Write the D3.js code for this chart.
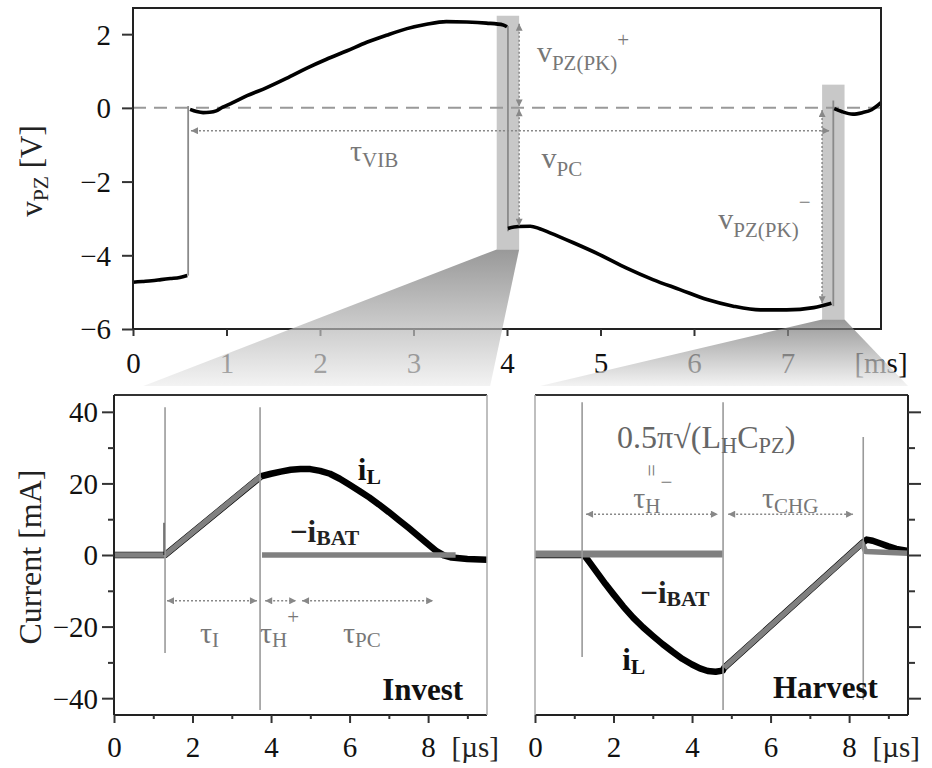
<!DOCTYPE html>
<html>
<head>
<meta charset="utf-8">
<script src="https://cdn.jsdelivr.net/npm/d3@7/dist/d3.min.js"></script>
<style>
  body { margin: 0; background: #fff; }
  text { font-family: "Liberation Serif", "Times New Roman", serif; }
</style>
</head>
<body>
<div id="chart"></div>
<script>
// Piezo voltage trace, [time ms, volts], split where the switch events jump
const vpzPart1 = [[0,-4.73],[0.1,-4.71],[0.2,-4.69],[0.3,-4.66],[0.4,-4.63],[0.5,-4.6],[0.58,-4.55]];
const vpzPart2 = [[0.61,-0.04],[0.68,-0.1],[0.75,-0.13],[0.82,-0.12],[0.89,-0.08],[0.96,0.02],[1.04,0.11],
  [1.22,0.33],[1.43,0.55],[1.64,0.8],[1.86,1.08],[2.07,1.32],[2.29,1.55],[2.5,1.78],[2.71,1.97],
  [2.93,2.15],[3.14,2.27],[3.35,2.34],[3.57,2.33],[3.78,2.3],[3.96,2.25],[4.0,2.2]];
const vpzPart3 = [[4.01,-3.27],[4.12,-3.22],[4.25,-3.21],[4.35,-3.28],[4.46,-3.39],[4.71,-3.66],[4.99,-3.98],
  [5.28,-4.35],[5.56,-4.66],[5.85,-4.93],[6.14,-5.2],[6.42,-5.38],[6.71,-5.48],[6.99,-5.48],[7.28,-5.42],[7.47,-5.3]];
const vpzPart4 = [[7.5,-0.02],[7.58,-0.1],[7.7,-0.17],[7.8,-0.13],[7.9,-0.05],[8.0,0.14]];
// jumps: [time, from V, to V]
const vpzJumps = [[0.59,-4.55,0.05],[4.01,2.22,-3.35],[7.49,-5.38,0.2]];
// shaded zoom windows: [t0, t1, vTop, vBottom]
const zoomWindows = [[3.89,4.13,2.5,-3.84],[7.37,7.61,0.63,-5.74]];
const topXTicks = [0,1,2,3,4,5,6,7];
const topYTicks = [-6,-4,-2,0,2];

// Invest phase currents, [time us, mA]
const investIL = [[0,0],[1.3,0],[3.75,22],[4.0,22.7],[4.25,23.3],[4.5,23.8],[4.75,24],[5.0,24],[5.25,23.5],
  [5.5,22.7],[5.75,21.3],[6.0,19.6],[6.25,17.9],[6.5,16.1],[6.75,14.1],[7.0,12],[7.25,9.8],[7.5,7.6],
  [7.75,5.3],[8.0,3],[8.2,1.2],[8.4,-0.1],[8.6,-0.7],[9.0,-1.1],[9.5,-1.3]];
const investBat1 = [[0,0],[1.3,0],[3.73,21.9]];
const investBat2 = [[3.77,0],[8.7,0]];
const investSpikes = [[1.3,-27.4,41.3],[3.72,-43.3,41.3]];
const investTaus = [[1.35,3.64],[3.85,4.64],[4.79,8.13]];

// Harvest phase currents, [time us, mA]
const harvestIL = [[0,0],[1.25,0],[1.4,-2.2],[1.6,-5.2],[1.8,-8.2],[2.0,-11],[2.25,-14.4],[2.5,-17.5],
  [2.75,-20.2],[3.0,-22.6],[3.25,-24.9],[3.5,-27],[3.75,-29],[4.0,-30.6],[4.2,-31.7],[4.4,-32.4],
  [4.6,-32.6],[4.78,-32.3],[4.82,-31.5],[8.33,3.3],[8.45,4.3],[8.6,4],[8.8,3.2],[9.0,2.4],[9.2,1.7],[9.5,1.1]];
const harvestBat1 = [[0,0.3],[4.78,0.3]];
const harvestBat2 = [[4.82,-31.5],[8.33,3.3],[8.42,1],[9.5,0.5]];
const harvestSpikes = [[1.2,-28.5,42.7],[4.79,-43.3,42.7],[8.36,-40.5,33]];
const harvestTaus = [[1.3,4.66],[4.92,8.1]];

const usMajor = [0,2,4,6,8];
const usMinor = [1,3,5,7,9];
const mAMajor = [-40,-20,0,20,40];
const mAMinor = [-30,-10,10,30];

const W = 932, H = 768;
const svg = d3.select("#chart").append("svg").attr("width", W).attr("height", H);
const defs = svg.append("defs");

defs.append("marker").attr("id", "head")
  .attr("viewBox", "0 0 10 10").attr("refX", 10).attr("refY", 5)
  .attr("markerWidth", 9).attr("markerHeight", 7).attr("markerUnits", "userSpaceOnUse")
  .attr("orient", "auto-start-reverse")
  .append("path").attr("d", "M0,0L10,5L0,10Z").attr("fill", "#888");

const fade = defs.append("linearGradient").attr("id", "fade")
  .attr("x1", 0).attr("y1", 0).attr("x2", 0).attr("y2", 1);
fade.append("stop").attr("offset", 0).attr("stop-color", "#6d6d6d").attr("stop-opacity", 0.7);
fade.append("stop").attr("offset", 1).attr("stop-color", "#eeeeee").attr("stop-opacity", 0.7);

// scales
const xTop = d3.scaleLinear().domain([0, 8]).range([133, 881]);
const yTop = d3.scaleLinear().domain([-6, 2.71]).range([329, 8]);
const xInv = d3.scaleLinear().domain([0, 9.5]).range([114, 487]);
const xHar = d3.scaleLinear().domain([0, 9.5]).range([535, 908]);
const yCur = d3.scaleLinear().domain([-44.7, 44.7]).range([715, 395]);

// text with sub/superscripts: parts = [[text, shift]]
function richText(parent, x, y, parts, size, color, weight) {
  const t = parent.append("text").attr("x", x).attr("y", y)
    .attr("font-size", size).attr("fill", color);
  if (weight) t.attr("font-weight", weight);
  let cur = 0;
  parts.forEach(p => {
    const s = p.length > 1 ? p[1] : 0;
    const ts = t.append("tspan").text(p[0]).attr("dy", s - cur);
    if (s !== 0) ts.attr("font-size", size * 0.7);
    cur = s;
  });
  return t;
}

function arrow(parent, x1, y1, x2, y2) {
  parent.append("line")
    .attr("x1", x1).attr("y1", y1).attr("x2", x2).attr("y2", y2)
    .attr("stroke", "#888").attr("stroke-width", 1.5).attr("stroke-dasharray", "2,2")
    .attr("marker-start", "url(#head)").attr("marker-end", "url(#head)");
}

function styleTicks(g, size) {
  g.select(".domain").remove();
  g.selectAll(".tick line").attr("stroke", "#333").attr("stroke-width", 2);
  g.selectAll(".tick text").attr("font-size", size).attr("fill", "#111");
}

// ---------------- top plot ----------------
const topG = svg.append("g");

topG.selectAll("rect.win").data(zoomWindows).enter().append("rect")
  .attr("x", d => xTop(d[0])).attr("width", d => xTop(d[1]) - xTop(d[0]))
  .attr("y", d => yTop(d[2])).attr("height", d => yTop(d[3]) - yTop(d[2]))
  .attr("fill", "#c8c8c8");

topG.append("line")
  .attr("x1", xTop(0)).attr("x2", xTop(8)).attr("y1", yTop(0)).attr("y2", yTop(0))
  .attr("stroke", "#999").attr("stroke-width", 2).attr("stroke-dasharray", "13,8");

topG.selectAll("line.jump").data(vpzJumps).enter().append("line")
  .attr("x1", d => xTop(d[0])).attr("x2", d => xTop(d[0]))
  .attr("y1", d => yTop(d[1])).attr("y2", d => yTop(d[2]))
  .attr("stroke", "#8a8a8a").attr("stroke-width", 1.8);

const vLine = d3.line().x(d => xTop(d[0])).y(d => yTop(d[1])).curve(d3.curveMonotoneX);
[vpzPart1, vpzPart2, vpzPart3, vpzPart4].forEach(p => {
  topG.append("path").attr("d", vLine(p)).attr("fill", "none")
    .attr("stroke", "#000").attr("stroke-width", 3.6).attr("stroke-linejoin", "round");
});

// frame and axes
topG.append("rect").attr("x", xTop(0)).attr("y", yTop(2.71))
  .attr("width", xTop(8) - xTop(0)).attr("height", yTop(-6) - yTop(2.71))
  .attr("fill", "none").attr("stroke", "#222").attr("stroke-width", 2);

const topX = topG.append("g").attr("transform", `translate(0,${yTop(-6)})`)
  .call(d3.axisBottom(xTop).tickValues(topXTicks).tickSize(7).tickSizeOuter(0).tickFormat(d3.format("d")));
styleTicks(topX, 29);
topX.selectAll(".tick text").attr("y", 44).attr("dy", 0);
topG.append("text").attr("x", xTop(8)).attr("y", yTop(-6) + 44).attr("text-anchor", "middle")
  .attr("font-size", 29).attr("fill", "#111").text("[ms]");

const topY = topG.append("g").attr("transform", `translate(${xTop(0)},0)`)
  .call(d3.axisLeft(yTop).tickValues(topYTicks).tickSize(11).tickSizeOuter(0).tickFormat(d3.format("d")));
styleTicks(topY, 29);
topY.selectAll(".tick text").attr("x", -22).attr("dy", "0.34em");

const yTitle = richText(topG, 0, 0, [["v"], ["PZ", 6], [" [V]", 0]], 31, "#222");
yTitle.attr("text-anchor", "middle").attr("transform", "translate(42,171) rotate(-90)");

// zoom wedges over the top plot axis
const wedgeBottom = 386;
const wedges = [
  [[xTop(zoomWindows[0][0]), yTop(zoomWindows[0][3])], [xTop(zoomWindows[0][1]), yTop(zoomWindows[0][3])],
   [xInv(9.58), wedgeBottom], [xInv(0.75), wedgeBottom]],
  [[xTop(zoomWindows[1][0]), yTop(zoomWindows[1][3])], [xTop(zoomWindows[1][1]), yTop(zoomWindows[1][3])],
   [xHar(9.5), wedgeBottom], [xHar(0.13), wedgeBottom]]
];
topG.selectAll("path.wedge").data(wedges).enter().append("path")
  .attr("d", d => "M" + d.map(p => p.join(",")).join("L") + "Z")
  .attr("fill", "url(#fade)");

// annotations
arrow(topG, xTop(0.62), yTop(-0.62), xTop(7.45), yTop(-0.62));
arrow(topG, xTop(4.13), yTop(2.28), xTop(4.13), yTop(0.04));
arrow(topG, xTop(4.13), yTop(-0.04), xTop(4.13), yTop(-3.2));
arrow(topG, xTop(7.37), yTop(-0.06), xTop(7.37), yTop(-5.3));

richText(topG, xTop(2.32), yTop(-1.43), [["τ"], ["VIB", 6]], 30, "#777");
richText(topG, xTop(4.32), yTop(1.24), [["v"], ["PZ(PK)", 8], ["+", -15]], 30, "#777");
richText(topG, xTop(4.37), yTop(-1.62), [["v"], ["PC", 8]], 30, "#777");
richText(topG, xTop(6.26), yTop(-3.28), [["v"], ["PZ(PK)", 8], ["−", -20]], 30, "#777");

// ---------------- lower panels ----------------
function currentPanel(xs, side, il, bats, spikes, extra) {
  const g = svg.append("g");
  const line = d3.line().x(d => xs(d[0])).y(d => yCur(d[1]));

  g.append("path").attr("d", line(il)).attr("fill", "none")
    .attr("stroke", "#000").attr("stroke-width", 6.5).attr("stroke-linejoin", "round");
  bats.forEach((b, i) => {
    g.append("path").attr("d", line(b)).attr("fill", "none")
      .attr("stroke", "#808080").attr("stroke-width", i === 0 && side === "right" ? 7 : 5.5)
      .attr("stroke-linejoin", "round");
  });
  if (extra) extra(g);
  g.selectAll("line.spike").data(spikes).enter().append("line")
    .attr("x1", d => xs(d[0])).attr("x2", d => xs(d[0]))
    .attr("y1", d => yCur(d[1])).attr("y2", d => yCur(d[2]))
    .attr("stroke", "#9a9a9a").attr("stroke-width", 1.6);

  const [x0, x1] = xs.range();
  const [yb, yt] = yCur.range();
  // frame: dark on the axis sides, grey on the inner side
  g.append("line").attr("x1", x0).attr("x2", x1).attr("y1", yt).attr("y2", yt)
    .attr("stroke", "#333").attr("stroke-width", 2);
  g.append("line").attr("x1", x0).attr("x2", x1).attr("y1", yb).attr("y2", yb)
    .attr("stroke", "#222").attr("stroke-width", 2);
  const axisX = side === "left" ? x0 : x1;
  const innerX = side === "left" ? x1 : x0;
  g.append("line").attr("x1", axisX).attr("x2", axisX).attr("y1", yt).attr("y2", yb)
    .attr("stroke", "#222").attr("stroke-width", 2);
  g.append("line").attr("x1", innerX).attr("x2", innerX).attr("y1", yt).attr("y2", yb)
    .attr("stroke", "#aaa").attr("stroke-width", 1.5);

  const bx = g.append("g").attr("transform", `translate(0,${yb})`)
    .call(d3.axisBottom(xs).tickValues(usMajor).tickSize(8).tickSizeOuter(0).tickFormat(d3.format("d")));
  styleTicks(bx, 29);
  bx.selectAll(".tick text").attr("y", 42).attr("dy", 0);
  const bm = g.append("g").attr("transform", `translate(0,${yb})`)
    .call(d3.axisBottom(xs).tickValues(usMinor).tickSize(4).tickSizeOuter(0).tickFormat(""));
  styleTicks(bm, 29);
  g.append("text").attr("x", xs(9.2)).attr("y", yb + 42).attr("text-anchor", "middle")
    .attr("font-size", 29).attr("fill", "#222").text("[µs]");

  if (side === "left") {
    const ly = g.append("g").attr("transform", `translate(${x0},0)`)
      .call(d3.axisLeft(yCur).tickValues(mAMajor).tickSize(12).tickSizeOuter(0).tickFormat(d3.format("d")));
    styleTicks(ly, 29);
    ly.selectAll(".tick text").attr("x", -16).attr("dy", "0.34em");
    const lm = g.append("g").attr("transform", `translate(${x0},0)`)
      .call(d3.axisLeft(yCur).tickValues(mAMinor).tickSize(6).tickSizeOuter(0).tickFormat(""));
    styleTicks(lm, 29);
  } else {
    const ry = g.append("g").attr("transform", `translate(${x1},0)`)
      .call(d3.axisRight(yCur).tickValues(mAMajor).tickSize(13).tickSizeOuter(0).tickFormat(""));
    styleTicks(ry, 29);
    const rm = g.append("g").attr("transform", `translate(${x1},0)`)
      .call(d3.axisRight(yCur).tickValues(mAMinor).tickSize(7).tickSizeOuter(0).tickFormat(""));
    styleTicks(rm, 29);
  }
  return g;
}

// Invest
const inv = currentPanel(xInv, "left", investIL, [investBat1, investBat2], investSpikes, g => {
  g.append("line").attr("x1", xInv(1.28)).attr("x2", xInv(1.28)).attr("y1", yCur(0)).attr("y2", yCur(9))
    .attr("stroke", "#000").attr("stroke-width", 1.5);
});
investTaus.forEach(d => arrow(inv, xInv(d[0]), yCur(-12.8), xInv(d[1]), yCur(-12.8)));
richText(inv, xInv(2.19), yCur(-24.6), [["τ"], ["I", 4]], 30, "#777");
richText(inv, xInv(3.72), yCur(-24.6), [["τ"], ["H", 4], ["+", -19]], 30, "#777");
richText(inv, xInv(5.83), yCur(-24.6), [["τ"], ["PC", 4]], 30, "#777");
richText(inv, xInv(6.21), yCur(20.9), [["i"], ["L", 4]], 31, "#111", "bold");
richText(inv, xInv(4.48), yCur(3.6), [["−i"], ["BAT", 3]], 31, "#222", "bold");
inv.append("text").attr("x", xInv(6.83)).attr("y", yCur(-40.5)).attr("font-size", 31)
  .attr("font-weight", "bold").attr("fill", "#111").text("Invest");

inv.append("text").attr("text-anchor", "middle")
  .attr("transform", "translate(41,557) rotate(-90)")
  .attr("font-size", 32).attr("fill", "#222").text("Current [mA]");

// Harvest
const har = currentPanel(xHar, "right", harvestIL, [harvestBat1, harvestBat2], harvestSpikes);
harvestTaus.forEach(d => arrow(har, xHar(d[0]), yCur(11.4), xHar(d[1]), yCur(11.4)));
richText(har, xHar(2.09), yCur(29.9), [["0.5π√(L"], ["H", 5], ["C", 0], ["PZ", 5], [")", 0]], 32, "#666");
har.append("text").attr("text-anchor", "middle")
  .attr("transform", `translate(${xHar(2.95)},${yCur(23.6)}) rotate(90)`)
  .attr("dy", "0.32em").attr("font-size", 22).attr("fill", "#777").text("=");
richText(har, xHar(2.5), yCur(13.1), [["τ"], ["H", 5], ["−", -19]], 30, "#777");
richText(har, xHar(5.78), yCur(13.1), [["τ"], ["CHG", 5]], 30, "#777");
richText(har, xHar(2.68), yCur(-13.4), [["−i"], ["BAT", 3]], 31, "#222", "bold");
richText(har, xHar(2.22), yCur(-32), [["i"], ["L", 4]], 31, "#111", "bold");
har.append("text").attr("x", xHar(6.06)).attr("y", yCur(-40)).attr("font-size", 31)
  .attr("font-weight", "bold").attr("fill", "#111").text("Harvest");
</script>
</body>
</html>
